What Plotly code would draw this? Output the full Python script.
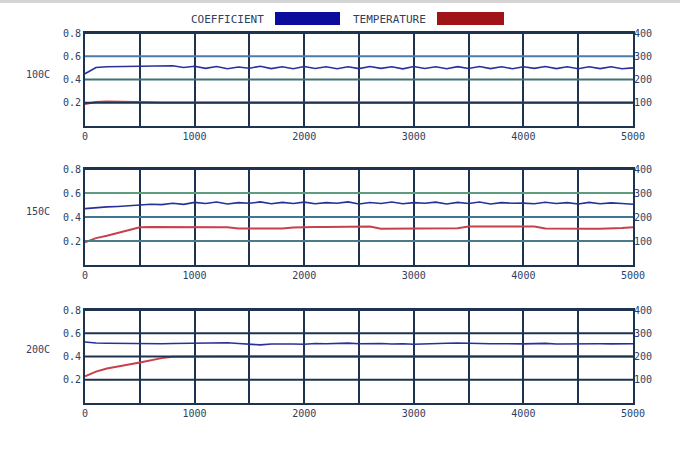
import plotly.graph_objects as go

# ---- data ----
time_s = list(range(0, 5001, 100))

coef_100 = [0.450, 0.503, 0.510, 0.512, 0.514, 0.515, 0.515, 0.514, 0.518, 0.503,
            0.514, 0.496, 0.512, 0.493, 0.507, 0.497, 0.514, 0.494, 0.510, 0.493,
            0.512, 0.495, 0.510, 0.492, 0.509, 0.494, 0.512, 0.496, 0.510, 0.492,
            0.512, 0.495, 0.510, 0.493, 0.511, 0.495, 0.512, 0.494, 0.510, 0.493,
            0.509, 0.496, 0.512, 0.494, 0.510, 0.492, 0.509, 0.494, 0.510, 0.493, 0.500]
temp_100 = [95, 103, 105, 105, 104, 103, 102, 101, 101, 101,
            101, 101, 101, 101, 101, 101, 101, 101, 101, 101,
            101, 101, 101, 101, 101, 101, 101, 101, 101, 101,
            101, 101, 101, 101, 101, 101, 101, 101, 101, 101,
            101, 101, 101, 101, 101, 101, 101, 101, 101, 101, 101]

coef_150 = [0.470, 0.480, 0.484, 0.488, 0.494, 0.500, 0.506, 0.503, 0.515, 0.505,
            0.522, 0.512, 0.525, 0.508, 0.520, 0.514, 0.526, 0.510, 0.522, 0.512,
            0.524, 0.511, 0.520, 0.515, 0.526, 0.509, 0.521, 0.513, 0.525, 0.510,
            0.520, 0.514, 0.524, 0.508, 0.522, 0.512, 0.525, 0.509, 0.520, 0.514,
            0.516, 0.510, 0.523, 0.512, 0.520, 0.508, 0.522, 0.511, 0.518, 0.512, 0.506]
temp_150 = [95, 112, 122, 133, 145, 157, 158, 158, 158, 158,
            158, 158, 157, 157, 152, 152, 152, 153, 152, 156,
            158, 158, 158, 158, 158, 160, 160, 151, 151, 151,
            151, 151, 151, 152, 153, 160, 160, 160, 160, 160,
            160, 160, 152, 151, 151, 151, 151, 151, 151, 154, 157]

coef_200 = [0.525, 0.516, 0.514, 0.512, 0.510, 0.508, 0.509, 0.510, 0.512, 0.514,
            0.516, 0.512, 0.514, 0.518, 0.512, 0.506, 0.500, 0.508, 0.510, 0.508,
            0.505, 0.512, 0.510, 0.512, 0.515, 0.510, 0.514, 0.512, 0.508, 0.510,
            0.505, 0.510, 0.512, 0.514, 0.516, 0.517, 0.512, 0.510, 0.508, 0.510,
            0.509, 0.511, 0.513, 0.508, 0.510, 0.507, 0.509, 0.510, 0.509, 0.510, 0.510]
temp_200 = [115, 135, 148, 158, 166, 174, 184, 193, 199, 200,
            200, 200, 200, 200, 200, 200, 200, 200, 200, 200,
            200, 200, 200, 200, 200, 200, 200, 200, 200, 200,
            200, 200, 200, 200, 200, 200, 200, 200, 200, 200,
            200, 200, 200, 200, 200, 200, 200, 200, 200, 200, 200]

panel_labels = ["100C", "150C", "200C"]
coef_series = [coef_100, coef_150, coef_200]
temp_series = [temp_100, temp_150, temp_200]

x_grid = [0, 500, 1000, 1500, 2000, 2500, 3000, 3500, 4000, 4500, 5000]
x_text = ["0", "", "1000", "", "2000", "", "3000", "", "4000", "", "5000"]
left_ticks = [0.2, 0.4, 0.6, 0.8]
left_text = ["0.2", "0.4", "0.6", "0.8"]
right_ticks = [100, 200, 300, 400]
right_text = ["100", "200", "300", "400"]

# ---- styling ----
NAVY = "#1e3350"
TXT = "#2e4163"
FONT = dict(family="DejaVu Sans Mono", size=10, color=TXT)
LEG_FONT = dict(family="DejaVu Sans Mono", size=11, color=TXT)
COEF_C = "#2a2f9a"
TEMP_C = "#c8404c"
grid_cols = [
    [NAVY, "#3f7276", "#4a7cae", NAVY],
    ["#4a7b88", "#3d7890", "#5e9c80", NAVY],
    [NAVY, NAVY, NAVY, NAVY],
]

x0, x1 = 85 / 680, 633 / 680
ydoms = [
    (1 - 126 / 457, 1 - 33 / 457),
    (1 - 265 / 457, 1 - 169 / 457),
    (1 - 403 / 457, 1 - 310 / 457),
]
label_y = [1 - 75 / 457, 1 - 211 / 457, 1 - 349 / 457]

fig = go.Figure()
layout = dict(
    width=680, height=457, autosize=False,
    margin=dict(l=0, r=0, t=0, b=0, pad=0, autoexpand=False),
    paper_bgcolor="white", plot_bgcolor="white",
    showlegend=False, font=FONT,
    shapes=[], annotations=[],
)

for i in range(3):
    xa = "x" if i == 0 else f"x{i+1}"
    yl = f"y{2*i+1}" if i > 0 else "y"
    yr = f"y{2*i+2}"
    xk = "xaxis" if i == 0 else f"xaxis{i+1}"
    ylk = "yaxis" if i == 0 else f"yaxis{2*i+1}"
    yrk = f"yaxis{2*i+2}"

    fig.add_trace(go.Scatter(x=time_s, y=temp_series[i], xaxis=xa, yaxis=yr,
                             mode="lines", line=dict(color=TEMP_C, width=2)))
    fig.add_trace(go.Scatter(x=time_s, y=coef_series[i], xaxis=xa, yaxis=yl,
                             mode="lines", line=dict(color=COEF_C, width=1.6)))

    layout[xk] = dict(domain=[x0, x1], anchor=yl, range=[0, 5000],
                      tickvals=x_grid, ticktext=x_text, ticks="",
                      showgrid=True, gridcolor=NAVY, gridwidth=1.5,
                      showline=True, linecolor=NAVY, linewidth=2, mirror=True,
                      zeroline=False, tickfont=FONT, automargin=False)
    layout[ylk] = dict(domain=list(ydoms[i]), anchor=xa, range=[0, 0.8],
                       tickvals=left_ticks, ticktext=left_text, ticks="",
                       showgrid=False, zeroline=False,
                       showline=True, linecolor=NAVY, linewidth=2, mirror=True,
                       tickfont=FONT, automargin=False)
    layout[yrk] = dict(overlaying=yl, side="right", anchor=xa, range=[0, 400],
                       tickvals=right_ticks, ticktext=right_text, ticks="",
                       showgrid=False, zeroline=False, showline=False,
                       tickfont=FONT, automargin=False)

    for lvl, col in zip(left_ticks, grid_cols[i]):
        layout["shapes"].append(dict(type="line", xref=f"{xa} domain", yref=yl,
                                     x0=0, x1=1, y0=lvl, y1=lvl, layer="above",
                                     line=dict(color=col, width=2)))

    layout["annotations"].append(dict(text=panel_labels[i], xref="paper", yref="paper",
                                      x=38 / 680, y=label_y[i], xanchor="center",
                                      yanchor="middle", showarrow=False, font=FONT))

layout["shapes"].append(dict(type="rect", xref="paper", yref="paper",
                             x0=0, x1=1, y0=1 - 3 / 457, y1=1,
                             fillcolor="#d4d4d4", line=dict(width=0)))
layout["annotations"].append(dict(text="COEFFICIENT", xref="paper", yref="paper",
                                  x=266 / 680, y=1 - 19 / 457, xanchor="right",
                                  yanchor="middle", showarrow=False, font=LEG_FONT))
layout["annotations"].append(dict(text="TEMPERATURE", xref="paper", yref="paper",
                                  x=428 / 680, y=1 - 19 / 457, xanchor="right",
                                  yanchor="middle", showarrow=False, font=LEG_FONT))
layout["shapes"].append(dict(type="rect", xref="paper", yref="paper",
                             x0=275 / 680, x1=340 / 680, y0=1 - 25 / 457, y1=1 - 12 / 457,
                             fillcolor="#0c0c9c", line=dict(width=0)))
layout["shapes"].append(dict(type="rect", xref="paper", yref="paper",
                             x0=437 / 680, x1=504 / 680, y0=1 - 25 / 457, y1=1 - 12 / 457,
                             fillcolor="#a01418", line=dict(width=0)))

fig.update_layout(**layout)
fig.write_html("out.html", config={"responsive": False, "displayModeBar": False},
               post_script="document.body.style.margin='0';document.body.style.overflow='hidden';")
